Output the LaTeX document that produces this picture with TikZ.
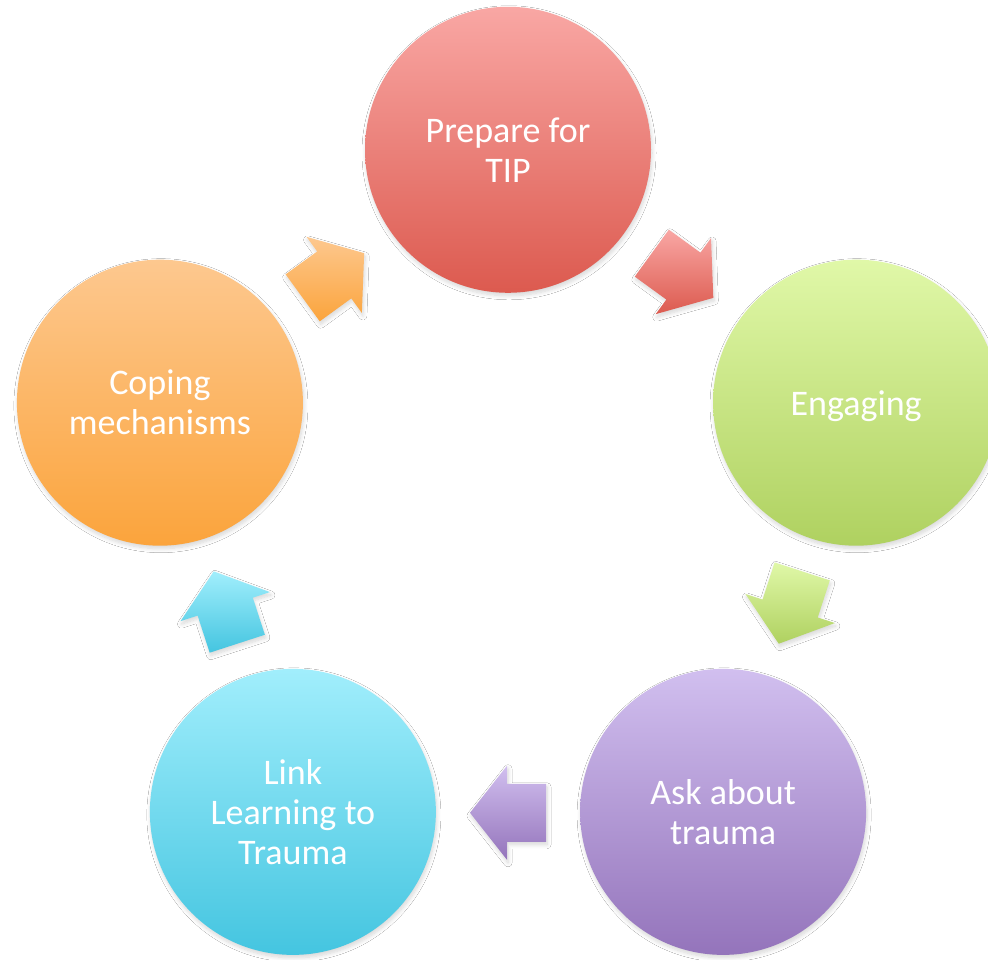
\documentclass[tikz,border=0pt]{standalone}
\usepackage{fontspec}
\setmainfont{Carlito}
\usetikzlibrary{calc,shadows.blur}
\definecolor{redT}{HTML}{F9A7A4}
\definecolor{redB}{HTML}{DC5A4F}
\definecolor{grnT}{HTML}{E0F8A8}
\definecolor{grnB}{HTML}{AFD160}
\definecolor{purT}{HTML}{D1BFEF}
\definecolor{purB}{HTML}{9474BB}
\definecolor{cyaT}{HTML}{A1EEFC}
\definecolor{cyaB}{HTML}{44C5E0}
\definecolor{orgT}{HTML}{FDC88F}
\definecolor{orgB}{HTML}{FBA43C}
\newcommand{\cyclearrow}[4]{%
  \path[arrowbox, top color=#3, bottom color=#4]
    ($(#1)+(#2:-38)+(#2+90:-29)$) -- ($(#1)+(#2:1)+(#2+90:-29)$) --
    ($(#1)+(#2:1)+(#2+90:-47)$) -- ($(#1)+(#2:38)$) --
    ($(#1)+(#2:1)+(#2+90:47)$) -- ($(#1)+(#2:1)+(#2+90:29)$) --
    ($(#1)+(#2:-38)+(#2+90:29)$) -- cycle;}
\begin{document}
\begin{tikzpicture}[x=1pt,y=1pt,
  softshadow/.style={blur shadow={shadow xshift=1pt, shadow yshift=-3pt,
      shadow blur radius=4pt, shadow blur steps=8, shadow opacity=16}},
  bubble/.style={circle, minimum size=286pt, inner sep=0pt, align=center,
      text=white, font=\fontsize{36}{40}\selectfont, softshadow},
  arrowbox/.style={softshadow}]
\clip (0,0) rectangle (988,960);
\fill[white] (0,0) rectangle (988,960);
\coordinate (O) at (508,444.2);
\node[bubble, top color=redT, bottom color=redB] (prep) at ($(O)+(90:366)$) {Prepare for\\TIP};
\node[bubble, top color=grnT, bottom color=grnB, text depth=0pt] (eng) at ($(O)+(18:366)$) {Engaging};
\node[bubble, top color=purT, bottom color=purB] (ask) at ($(O)+(-54:366)$) {Ask about\\trauma};
\node[bubble, top color=cyaT, bottom color=cyaB] (link) at ($(O)+(-126:366)$) {Link\\Learning to\\Trauma};
\node[bubble, top color=orgT, bottom color=orgB] (cope) at ($(O)+(162:366)$) {Coping\\mechanisms};
\coordinate (a1) at ($(O)+(126:297)$);
\coordinate (a2) at ($(O)+(54:297)$);
\coordinate (a3) at ($(O)+(-18:297)$);
\coordinate (a4) at ($(O)+(-90:297)$);
\coordinate (a5) at ($(O)+(-162:297)$);
\cyclearrow{a1}{36}{orgT}{orgB}
\cyclearrow{a2}{-36}{redT}{redB}
\cyclearrow{a3}{-108}{grnT}{grnB}
\cyclearrow{a4}{180}{purT}{purB}
\cyclearrow{a5}{108}{cyaT}{cyaB}
\end{tikzpicture}
\end{document}
